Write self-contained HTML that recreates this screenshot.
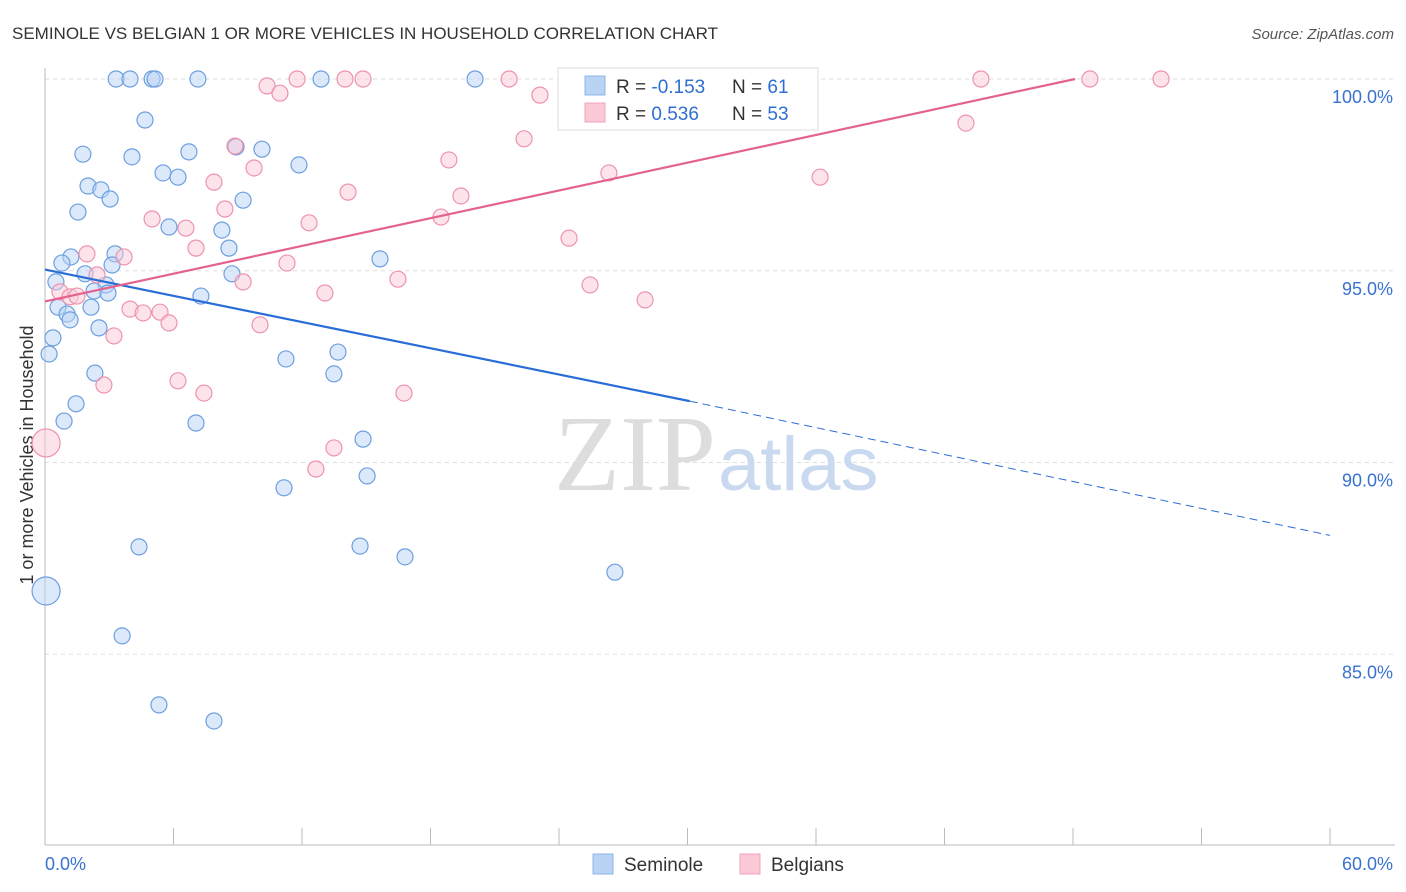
<!DOCTYPE html>
<html><head><meta charset="utf-8">
<style>
body{margin:0;background:#fff;font-family:"Liberation Sans",sans-serif;}
svg{display:block}
</style></head><body>
<svg id="chart" width="1406" height="892" xmlns="http://www.w3.org/2000/svg">
<text x="12" y="39" font-size="17" fill="#333">SEMINOLE VS BELGIAN 1 OR MORE VEHICLES IN HOUSEHOLD CORRELATION CHART</text>
<text x="1394" y="39" font-size="15" fill="#555" font-style="italic" text-anchor="end">Source: ZipAtlas.com</text>
<text x="33" y="455" font-size="18" fill="#333" text-anchor="middle" transform="rotate(-90 33 455)">1 or more Vehicles in Household</text>
<g id="grid"></g>
<text x="716" y="490" font-size="108" fill="#ddd" text-anchor="end" font-family="Liberation Serif">ZIP</text>
<text x="718" y="490" font-size="76" fill="#c9d9ef">atlas</text>
<g id="pts"></g>
<g id="lines"></g>
<g>
<rect x="558" y="68" width="260" height="62" fill="#fff" stroke="#ddd"/>
<rect x="585" y="76" width="20" height="19" fill="#b9d3f5" stroke="#8fb5e8"/>
<rect x="585" y="103" width="20" height="19" fill="#fcc9d7" stroke="#f0a4bb"/>
<text x="616" y="93" font-size="19" fill="#333">R = <tspan fill="#2f6fd0">-0.153</tspan></text>
<text x="732" y="93" font-size="19" fill="#333">N = <tspan fill="#2f6fd0"> 61</tspan></text>
<text x="616" y="120" font-size="19" fill="#333">R = <tspan fill="#2f6fd0"> 0.536</tspan></text>
<text x="732" y="120" font-size="19" fill="#333">N = <tspan fill="#2f6fd0">53</tspan></text>
</g>
<g>
<rect x="593" y="854" width="20" height="20" fill="#b9d3f5" stroke="#8fb5e8"/>
<text x="624" y="871" font-size="19" fill="#333">Seminole</text>
<rect x="740" y="854" width="20" height="20" fill="#fcc9d7" stroke="#f0a4bb"/>
<text x="771" y="871" font-size="19" fill="#333">Belgians</text>
</g>
</svg>
<script>
const blueX=[116,130,152,155,198,321,475,145,83,132,189,236,262,299,163,178,88,101,110,78,243,169,222,229,71,115,62,112,380,85,56,232,106,94,108,201,58,91,67,70,99,53,49,286,338,95,334,76,64,196,363,367,284,139,360,405,615,46,122,159,214].map(p=>+((p-45)*60/1285).toFixed(2));
const blueY=[79,79,79,79,79,79,79,120,154,157,152,147,149,165,173,177,186,190,199,212,200,227,230,248,257,254,263,265,259,274,282,274,285,291,293,296,307,307,314,320,328,338,354,359,352,373,374,404,421,423,439,476,488,547,546,557,572,591,636,705,721].map(p=>+(100-(p-79)/38.35).toFixed(2));
const pinkX=[267,297,280,345,363,509,540,981,1090,1161,966,524,235,254,449,214,348,461,609,820,225,152,186,309,441,569,196,87,124,287,97,243,398,590,645,60,70,77,325,130,160,143,169,260,114,104,178,204,404,334,316,46,750].map(p=>+((p-45)*60/1285).toFixed(2));
const pinkY=[86,79,93,79,79,79,95,79,79,79,123,139,146,168,160,182,192,196,173,177,209,219,228,223,217,238,248,254,257,263,275,282,279,285,300,292,297,296,293,309,312,313,323,325,336,385,381,393,393,448,469,443,113].map(p=>+(100-(p-79)/38.35).toFixed(2));
const yTicks=[100,95,90,85];
const yTickLabels=["100.0%","95.0%","90.0%","85.0%"];
const xTickLabels=["0.0%","60.0%"];
const X=v=>45+v/60*1285, Y=v=>79+(100-v)*38.35;
const NS="http://www.w3.org/2000/svg";
function mk(t,a,p){const e=document.createElementNS(NS,t);for(const k in a)e.setAttribute(k,a[k]);p.appendChild(e);return e;}
const g=document.getElementById('grid');
yTicks.forEach((t,i)=>{const l=mk('line',{x1:45,x2:1395,y1:Y(t),y2:Y(t),stroke:'#ddd','stroke-dasharray':'4 4'},g);


const tx=mk('text',{x:1393,y:Y(t)+24,'font-size':18,fill:'#3a72cf','text-anchor':'end'},g);tx.textContent=yTickLabels[i];

});
const ax=mk('line',{x1:45,x2:45,y1:68,y2:845,stroke:'#bbb'},g);


const bx=mk('line',{x1:45,x2:1395,y1:845,y2:845,stroke:'#bbb'},g);


for(let i=0;i<=10;i++){const v=i*6;const t=mk('line',{x1:X(v),x2:X(v),y1:828,y2:845,stroke:'#bbb'},g);

}
[[0,'start',45],[60,'end',1393]].forEach((d,i)=>{const tx=mk('text',{x:d[2],y:870,'font-size':18,fill:'#3a72cf','text-anchor':d[1]},g);tx.textContent=xTickLabels[i];

});
const P=document.getElementById('pts');
function pts(xs,ys,fill,stroke,name){xs.forEach((x,i)=>{const big=(x<0.1);const c=mk('circle',{cx:X(x),cy:Y(ys[i]),r:big?14:8,fill:fill,'fill-opacity':0.5,stroke:stroke,'stroke-width':1.2},P);

});}
pts(blueX,blueY,'#b9d3f5','#6d9fe0','seminole-point');
pts(pinkX,pinkY,'#fcc9d7','#ee92ae','belgian-point');
const L=document.getElementById('lines');
const a=mk('line',{x1:X(0),y1:Y(95.03),x2:X(30.1),y2:Y(91.6),stroke:'#2b6dd6','stroke-width':2.2},L);


const b=mk('line',{x1:X(30.1),y1:Y(91.6),x2:X(60),y2:Y(88.1),stroke:'#2b6dd6','stroke-width':1,'stroke-dasharray':'8 5'},L);


const c=mk('line',{x1:X(0),y1:Y(94.2),x2:X(48.1),y2:Y(100),stroke:'#e4638e','stroke-width':2.2},L);


</script>
</body></html>
